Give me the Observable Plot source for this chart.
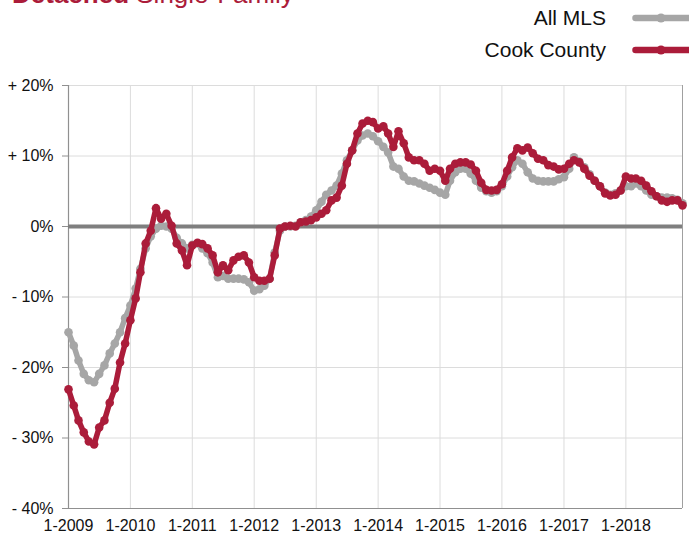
<!DOCTYPE html>
<html>
<head>
<meta charset="utf-8">
<script src="https://cdn.jsdelivr.net/npm/d3@7"></script>
<script src="https://cdn.jsdelivr.net/npm/@observablehq/plot@0.6"></script>
<style>
  html, body { margin: 0; padding: 0; background: #fff; }
  #wrap { position: relative; width: 689px; height: 535px; overflow: hidden; font-family: "Liberation Sans", Arial, sans-serif; }
  #chart { position: absolute; left: 0; top: 0; }
  #title { position: absolute; left: 12px; top: -19px; font-size: 26px; line-height: 26px; color: #ab1c3a; white-space: nowrap; }
  #title b { font-weight: bold; }
  .leg { position: absolute; right: 0; height: 24px; display: flex; align-items: center; font-size: 21px; color: #111; white-space: nowrap; }
  .leg span { display: inline-block; text-align: right; }
  .leg svg { margin-left: 26px; }
</style>
</head>
<body>
<div id="wrap">
  <div id="chart"></div>
  <div id="title"><b>Detached</b> Single-Family</div>
  <div id="legend"></div>
</div>
<script>
// ---- data (monthly, Jan 2009 – Dec 2018) ----
const startYear = 2009;
const allMLS = [
  -15.0, -16.9, -19.0, -20.9, -21.8, -22.1, -20.9, -19.7, -18.0, -16.6, -15.0, -13.0,
  -11.2, -8.8, -6.0, -3.1, -1.4, -0.3, 0.1, 0.0, -0.3, -1.6, -2.4, -3.1,
  -2.6, -2.4, -3.1, -3.8, -5.1, -7.2, -7.0, -7.4, -7.4, -7.4, -7.5, -7.9,
  -9.1, -8.9, -8.4, -7.4, -3.7, -0.6, 0.0, 0.0, 0.1, 0.6, 0.9, 1.4,
  2.3, 3.5, 4.5, 5.1, 5.8, 7.5, 9.4, 10.8, 12.2, 12.9, 13.2, 12.8,
  12.1, 11.3, 10.5, 8.5, 8.2, 7.1, 6.5, 6.4, 6.1, 5.8, 5.5, 5.2,
  4.8, 4.5, 6.5, 7.7, 8.2, 8.2, 7.5, 6.5, 5.5, 5.0, 4.8, 5.0,
  5.7, 7.1, 8.4, 9.4, 8.9, 7.7, 6.8, 6.5, 6.4, 6.4, 6.4, 6.7,
  7.0, 8.2, 9.8, 9.2, 8.4, 7.4, 6.5, 5.7, 4.8, 4.5, 4.7, 5.1,
  5.7, 5.7, 6.1, 5.7, 5.1, 4.5, 4.3, 4.1, 4.1, 4.0, 3.8, 3.3
];
const cookCounty = [
  -23.1, -25.4, -27.5, -29.2, -30.5, -30.9, -28.5, -27.5, -25.0, -23.0, -19.3, -16.6,
  -13.3, -10.2, -6.5, -2.4, -0.6, 2.6, 1.1, 1.8, 0.1, -2.4, -3.4, -5.5,
  -2.7, -2.3, -2.5, -3.1, -4.1, -6.5, -5.5, -6.2, -4.8, -4.3, -4.1, -5.1,
  -7.2, -7.7, -7.7, -7.4, -4.1, -0.3, 0.0, 0.1, 0.0, 0.6, 0.7, 0.9,
  1.3, 1.8, 2.3, 3.7, 4.1, 5.8, 8.9, 10.8, 13.2, 14.6, 15.0, 14.8,
  13.9, 14.2, 13.2, 11.3, 13.5, 11.8, 9.8, 9.4, 9.4, 8.9, 7.9, 8.2,
  7.9, 6.5, 8.2, 8.9, 9.1, 9.1, 8.8, 7.9, 6.2, 5.2, 5.1, 5.2,
  6.0, 7.9, 9.8, 11.1, 10.8, 11.2, 10.4, 9.6, 9.4, 8.7, 8.5, 8.1,
  8.2, 8.9, 9.4, 9.1, 8.2, 7.2, 6.5, 5.7, 4.7, 4.4, 4.5, 5.1,
  7.1, 6.8, 6.8, 6.5, 5.8, 5.0, 4.3, 3.7, 3.5, 3.7, 3.7, 3.0
];
const seriesNames = ["All MLS", "Cook County"];
const seriesColors = ["#a6a6a6", "#ab1c3a"];
const yTicks = [-40, -30, -20, -10, 0, 10, 20];
const xTickYears = [2009, 2010, 2011, 2012, 2013, 2014, 2015, 2016, 2017, 2018];

// ---- build table ----
const monthDate = i => new Date(Date.UTC(startYear + Math.floor(i / 12), i % 12, 1));
const rows = [];
[allMLS, cookCounty].forEach((vals, s) => {
  vals.forEach((v, i) => rows.push({series: seriesNames[s], date: monthDate(i), value: v}));
});
const gray = rows.filter(d => d.series === seriesNames[0]);
const red = rows.filter(d => d.series === seriesNames[1]);
const xStart = monthDate(0), xEnd = monthDate(allMLS.length - 1);
const xTicks = xTickYears.map(y => new Date(Date.UTC(y, 0, 1)));
const fmtY = d => d > 0 ? "+ " + d + "%" : d < 0 ? "- " + (-d) + "%" : "0%";

const chart = Plot.plot({
  width: 689,
  height: 535,
  marginTop: 85,
  marginBottom: 27,
  marginLeft: 68,
  marginRight: 7,
  style: {fontFamily: "'Liberation Sans', Arial, sans-serif", color: "#111", background: "#fff"},
  x: {type: "utc", domain: [xStart, xEnd]},
  y: {domain: [-40, 20]},
  marks: [
    Plot.gridY(yTicks, {stroke: "#dcdcdc", strokeOpacity: 1, strokeWidth: 1}),
    Plot.gridX(xTicks, {stroke: "#dcdcdc", strokeOpacity: 1, strokeWidth: 1}),
    Plot.ruleX([xEnd], {stroke: "#a0a0a0", strokeWidth: 1}),
    Plot.ruleY([-40], {stroke: "#909090", strokeWidth: 1.2}),
    Plot.ruleX([xStart], {stroke: "#909090", strokeWidth: 1.2}),
    Plot.ruleY([0], {stroke: "#7f7f7f", strokeWidth: 3.8}),
    Plot.axisY(yTicks, {tickFormat: fmtY, tickSize: 6, tickPadding: 9, stroke: "#909090", fontSize: 16, fill: "#111", label: null}),
    Plot.axisX(xTicks, {tickFormat: d => "1-" + d.getUTCFullYear(), tickSize: 0, tickPadding: 11, fontSize: 16, fill: "#111", label: null}),
    Plot.lineY(gray, {x: "date", y: "value", stroke: seriesColors[0], strokeWidth: 5.5, strokeLinejoin: "round"}),
    Plot.dot(gray, {x: "date", y: "value", fill: seriesColors[0], r: 4.3}),
    Plot.lineY(red, {x: "date", y: "value", stroke: seriesColors[1], strokeWidth: 5.5, strokeLinejoin: "round"}),
    Plot.dot(red, {x: "date", y: "value", fill: seriesColors[1], r: 4.3})
  ]
});
document.getElementById("chart").appendChild(chart);

// ---- legend ----
const legend = document.getElementById("legend");
seriesNames.forEach((name, i) => {
  const row = document.createElement("div");
  row.className = "leg";
  row.style.top = (6 + i * 32) + "px";
  row.innerHTML = `<span>${name}</span><svg width="57" height="14"><line x1="3.5" x2="60" y1="7" y2="7" stroke="${seriesColors[i]}" stroke-width="6.5" stroke-linecap="round"/><circle cx="29" cy="7" r="4.5" fill="${seriesColors[i]}"/></svg>`;
  legend.appendChild(row);
});
</script>
</body>
</html>
